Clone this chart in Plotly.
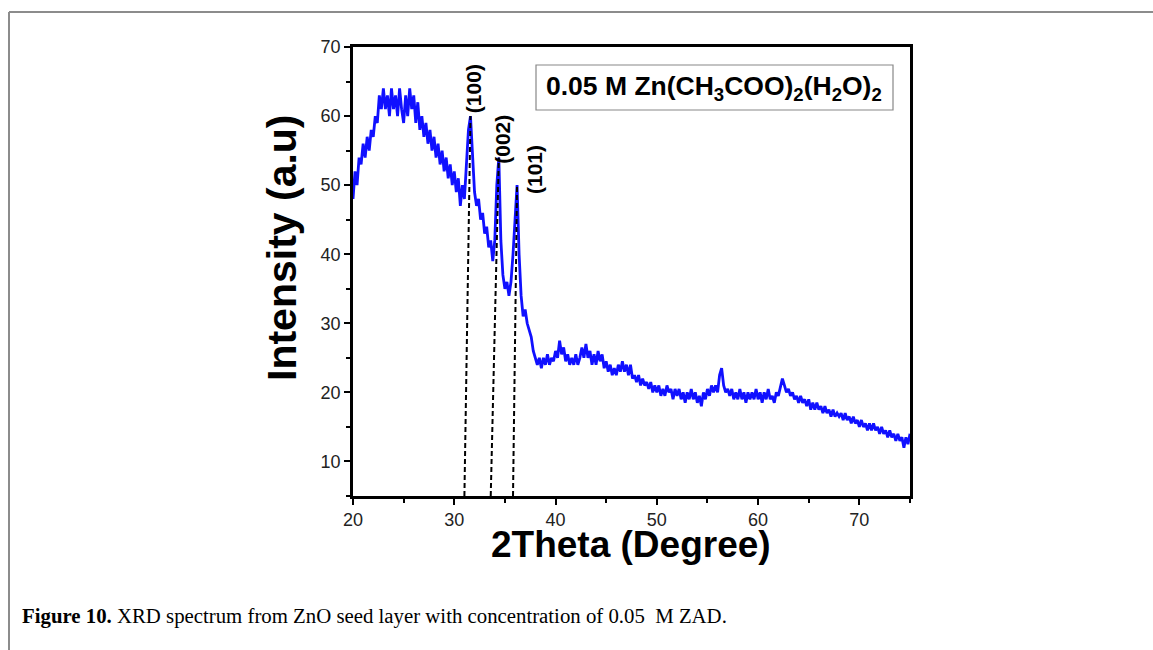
import numpy as np
import plotly.graph_objects as go

# 2Theta sampling grid (degrees) and intensities
two_theta = np.round(np.linspace(20.0, 75.0, 276), 1)
intensity = [
    48, 52, 50, 54, 53, 56, 54, 57, 55, 58,
    57, 60, 59, 63, 61, 64, 61, 63, 60, 64,
    61, 63, 60, 64, 61, 59, 63, 60, 64, 61,
    63, 59, 62, 58, 60, 57, 59, 56, 58, 55,
    57, 54, 56, 53, 55, 52, 54, 51, 53, 50,
    52, 49, 51, 47, 50, 48, 53, 58, 60, 55,
    49, 47, 48, 45, 46, 43, 44, 41, 42, 39,
    42, 50, 54, 42, 37, 35, 36, 34, 36, 40,
    46, 50, 40, 34, 31, 32, 30, 29, 28, 26,
    25, 24, 25, 23.5, 25, 24, 25.5, 24, 25, 24.5,
    26, 25, 27.5, 25.5, 26.5, 24.5, 25.5, 24, 25, 24,
    25.5, 24, 25, 26.5, 25, 27, 25, 26, 24, 25.5,
    24, 26, 24.5, 25.5, 23.5, 24.5, 23, 24, 22.5, 23.5,
    22.5, 24, 23, 24.5, 23, 24, 22.5, 24, 22, 22.5,
    21.5, 22.5, 21, 22, 21, 21.5, 20.5, 21.5, 20, 21,
    20, 21, 19.5, 20.5, 19.5, 21, 20, 20.5, 19, 20.5,
    19.5, 20.5, 19, 20, 18.5, 20, 19, 20.5, 19, 20,
    18.5, 19.5, 18, 20, 19, 20.5, 19.5, 21, 20, 21,
    20, 22.5, 23.5, 21, 20, 20.5, 19.5, 20.5, 19, 20,
    19, 20.5, 19, 20, 18.5, 20, 19, 20, 19, 20.5,
    19, 20, 18.5, 20, 19, 20.5, 19, 19.5, 18.5, 20,
    19.5, 21, 22, 21, 20, 20.5, 19.5, 20, 19, 19.5,
    18.5, 19.5, 18.5, 19, 18, 19, 17.5, 18.5, 17.5, 18.5,
    17.5, 18, 17, 18, 17, 17.5, 16.5, 17.5, 16.5, 17,
    16.5, 17, 16, 17, 16, 16.5, 15.5, 16.5, 15.5, 16,
    15, 16, 15, 15.5, 14.5, 15.5, 14.5, 15.5, 14.5, 15,
    14, 15, 14, 14.5, 13.5, 14.5, 13.5, 14, 13, 14,
    13, 13.5, 12, 13.5, 12.5, 14,
]

# Peak markers
peak_labels = ["(100)", "(002)", "(101)"]
peak_top_x = [31.6, 34.4, 36.2]
peak_top_y = [60, 54, 50]
peak_base_x = [31.0, 33.6, 35.8]
peak_base_y = [5, 5, 5]
label_x = [31.85, 34.8, 37.85]
label_y = [63.9, 56.7, 52.3]

x_ticks = [20, 30, 40, 50, 60, 70]
y_ticks = [10, 20, 30, 40, 50, 60, 70]

legend_text = "0.05 M Zn(CH<sub>3</sub>COO)<sub>2</sub>(H<sub>2</sub>O)<sub>2</sub>"
caption = "<b>Figure 10.</b> XRD spectrum from ZnO seed layer with concentration of 0.05  M ZAD."

fig = go.Figure()
fig.add_trace(go.Scatter(x=two_theta, y=intensity, mode="lines",
                         line=dict(color="#1010ff", width=2.8), showlegend=False))
for bx, by, tx, ty in zip(peak_base_x, peak_base_y, peak_top_x, peak_top_y):
    fig.add_trace(go.Scatter(x=[bx, tx], y=[by, ty], mode="lines",
                             line=dict(color="black", width=2, dash="5px,3px"),
                             showlegend=False))

# plot area in pixels: x 353-910, y 47-496
L, R, T, B = 353, 910, 47, 496
W, H = R - L, B - T
def px(x):
    return (x - L) / W
def py(y):
    return (B - y) / H

axis_common = dict(showline=True, linecolor="black", linewidth=2.5, mirror=True,
                   ticks="outside", ticklen=6, tickwidth=2, tickcolor="black",
                   showgrid=False, zeroline=False,
                   tickfont=dict(family="Liberation Sans", size=18, color="#222"))

fig.update_xaxes(range=[20, 75], tickvals=x_ticks,
                 minor=dict(ticks="outside", ticklen=4, tickwidth=2, tickcolor="black", dtick=5, tick0=0),
                 **axis_common)
fig.update_yaxes(range=[5, 70], tickvals=y_ticks,
                 minor=dict(ticks="outside", ticklen=4, tickwidth=2, tickcolor="black", dtick=5, tick0=0),
                 **axis_common)

annotations = []
for t, lx, ly in zip(peak_labels, label_x, label_y):
    annotations.append(dict(x=lx, y=ly, xref="x", yref="y", text=t, textangle=-90,
                            showarrow=False,
                            font=dict(family="Liberation Sans", size=21, color="black", weight="bold")))
annotations.append(dict(x=px(714), y=py(88), xref="paper", yref="paper", text=legend_text,
                        showarrow=False, xanchor="center", yanchor="middle",
                        font=dict(family="Liberation Sans", size=26.5, color="black", weight="bold")))
annotations.append(dict(x=px(282), y=py(248), xref="paper", yref="paper",
                        text="Intensity (a.u)", textangle=-90, showarrow=False,
                        xanchor="center", yanchor="middle",
                        font=dict(family="Liberation Sans", size=41, color="black", weight="bold")))
annotations.append(dict(x=px(631), y=py(544), xref="paper", yref="paper",
                        text="2Theta (Degree)", showarrow=False,
                        xanchor="center", yanchor="middle",
                        font=dict(family="Liberation Sans", size=37, color="black", weight="bold")))
annotations.append(dict(x=px(20), y=py(616), xref="paper", yref="paper",
                        text=caption, showarrow=False, xanchor="left", yanchor="middle",
                        font=dict(family="Liberation Serif", size=20.8, color="black")))

shapes = [
    dict(type="rect", xref="paper", yref="paper", x0=px(536), x1=px(893), y0=py(110), y1=py(65),
         line=dict(color="#888", width=1.2), fillcolor="rgba(0,0,0,0)"),
    dict(type="line", xref="paper", yref="paper", x0=px(9), x1=px(1160), y0=py(12), y1=py(12),
         line=dict(color="#8c8c8c", width=2)),
    dict(type="line", xref="paper", yref="paper", x0=px(9), x1=px(9), y0=py(12), y1=py(660),
         line=dict(color="#8c8c8c", width=2)),
]

fig.update_layout(width=1153, height=650, autosize=False,
                  margin=dict(l=L, r=1153 - R, t=T, b=650 - B),
                  paper_bgcolor="white", plot_bgcolor="white",
                  annotations=annotations, shapes=shapes, showlegend=False)

fig.write_html("out.html", config={"displayModeBar": False})
